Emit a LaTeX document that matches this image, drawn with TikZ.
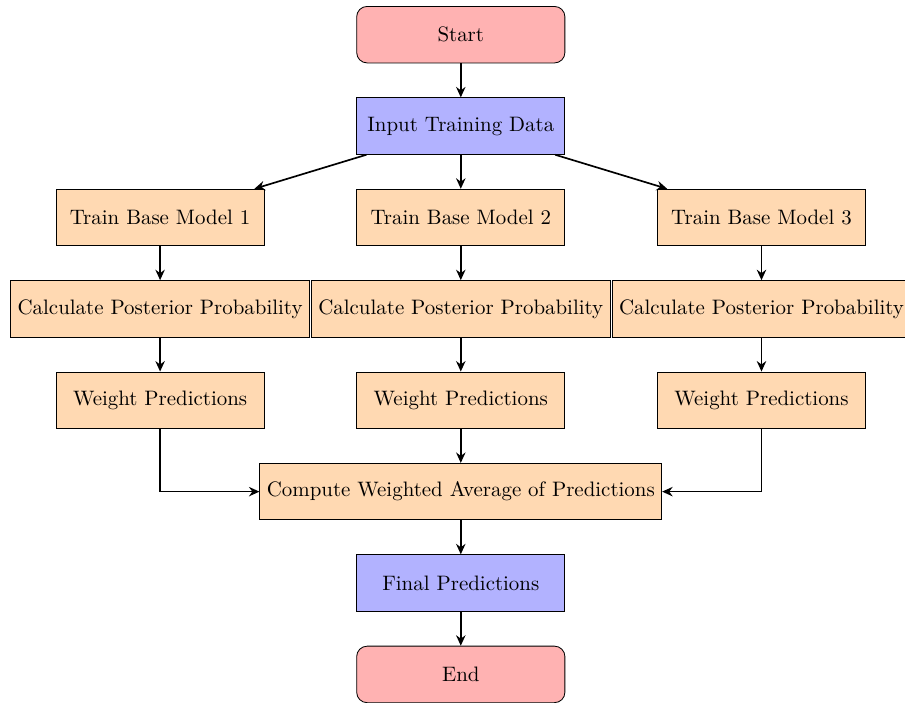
\documentclass[tikz,border=0pt]{standalone}
\usepackage{tikz}
\usetikzlibrary{arrows.meta,positioning}

\begin{document}
\begin{tikzpicture}[node distance=5.72mm and 15.4mm,>={Stealth[length=5pt,width=4.5pt]},
  startstop/.style={draw,rounded corners=5pt,fill=red!30,minimum width=35mm,minimum height=9.5mm},
  io/.style={draw,fill=blue!30,minimum width=35mm,minimum height=9.5mm},
  process/.style={draw,fill=orange!30,minimum width=35mm,minimum height=9.5mm},
  arrow/.style={thick,->}]
\useasboundingbox (-7.745,0.583) rectangle (7.466,-11.232);
\node[startstop] (start) at (0,0) {Start};
\node[io,below=of start] (input) {Input Training Data};
\node[process,below=of input] (train2) {Train Base Model 2};
\node[process,left=of train2] (train1) {Train Base Model 1};
\node[process,right=of train2] (train3) {Train Base Model 3};
\node[process,below=of train1] (post1) {Calculate Posterior Probability};
\node[process,below=of train2] (post2) {Calculate Posterior Probability};
\node[process,below=of train3] (post3) {Calculate Posterior Probability};
\node[process,below=of post1] (weight1) {Weight Predictions};
\node[process,below=of post2] (weight2) {Weight Predictions};
\node[process,below=of post3] (weight3) {Weight Predictions};
\node[process,below=of weight2] (average) {Compute Weighted Average of Predictions};
\node[io,below=of average] (final) {Final Predictions};
\node[startstop,below=of final] (end) {End};
% connections
\draw[arrow] (start)--(input);
\draw[arrow] (input)--(train1);
\draw[arrow] (input)--(train2);
\draw[arrow] (input)--(train3);
\draw[arrow] (train1)--(post1);
\draw[arrow] (train2)--(post2);
\draw[arrow] (train3)--(post3);
\draw[arrow] (post1)--(weight1);
\draw[arrow] (post2)--(weight2);
\draw[arrow] (post3)--(weight3);
\draw[arrow] (weight1)|-(average);
\draw[arrow] (weight2)--(average);
\draw[arrow] (weight3)|-(average);
\draw[arrow] (average)--(final);
\draw[arrow] (final)--(end);
\end{tikzpicture}
\end{document}
